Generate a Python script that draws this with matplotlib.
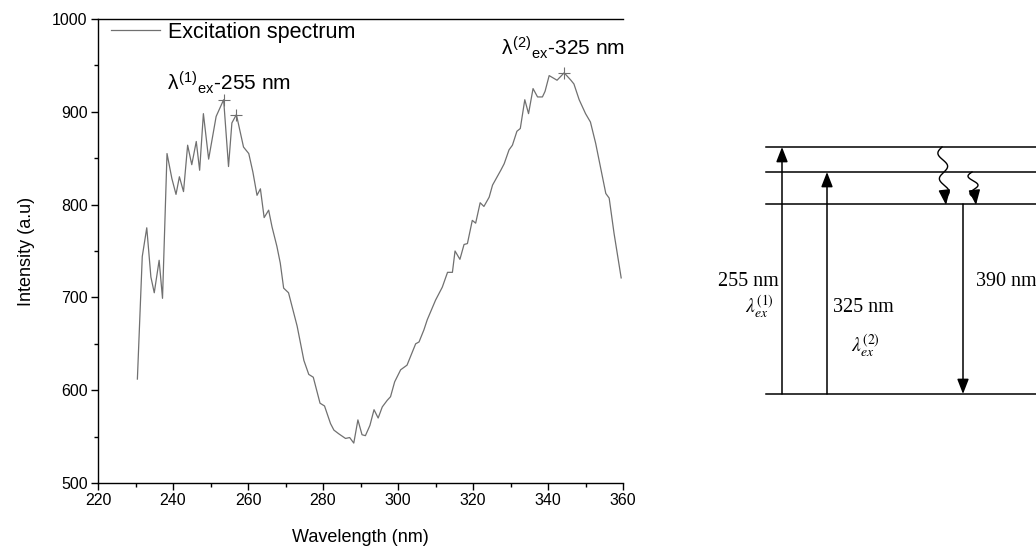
import numpy as np
import matplotlib
matplotlib.use("Agg")
import matplotlib.pyplot as plt
from matplotlib.ticker import MultipleLocator

plt.rcParams['font.family'] = ['Liberation Sans', 'DejaVu Sans']
plt.rcParams['mathtext.fontset'] = 'custom'
plt.rcParams['mathtext.rm'] = 'Liberation Sans'
plt.rcParams['mathtext.it'] = 'Liberation Sans'

# excitation spectrum
wavelength = [230.5, 231.8, 233.0, 234.1, 235.0, 236.3, 237.2, 238.4, 239.7, 240.8,
              241.7, 242.8, 243.9, 245.0, 246.2, 247.1, 248.1, 249.5, 251.5, 253.5,
              254.8, 255.7, 256.9, 258.8, 260.2, 261.3, 262.4, 263.3, 264.3, 265.5,
              266.4, 267.7, 268.6, 269.5, 270.8, 273.1, 274.9, 276.2, 277.4, 279.2,
              280.4, 282.0, 282.9, 284.2, 286.0, 287.1, 288.2, 289.3, 290.4, 291.3,
              292.5, 293.6, 294.7, 295.8, 297.1, 298.0, 299.1, 300.7, 302.4, 303.8,
              304.7, 305.6, 306.9, 307.8, 310.0, 311.8, 313.2, 314.5, 315.2, 316.5,
              317.6, 318.5, 319.8, 320.7, 321.9, 322.9, 324.3, 325.2, 327.4, 328.3,
              329.6, 330.5, 331.7, 332.6, 333.8, 334.8, 336.0, 337.2, 338.5, 339.2,
              340.3, 342.4, 344.3, 346.1, 346.9, 348.3, 350.0, 351.3, 352.7, 355.4,
              356.3, 357.6, 359.5]
intensity = [612, 744, 775, 722, 705, 740, 699, 855, 828, 811,
             830, 814, 864, 843, 868, 837, 898, 849, 895, 913,
             841, 888, 897, 862, 855, 835, 810, 817, 786, 794,
             776, 755, 737, 710, 705, 669, 632, 617, 614, 586,
             583, 564, 557, 553, 548, 549, 543, 568, 552, 551,
             562, 579, 570, 582, 589, 593, 609, 622, 627, 641,
             650, 652, 665, 676, 697, 711, 727, 727, 750, 741,
             757, 758, 783, 780, 802, 798, 808, 821, 837, 844,
             859, 864, 879, 882, 913, 898, 925, 916, 916, 922,
             939, 934, 942, 934, 930, 913, 898, 889, 866, 812,
             807, 769, 721]

peak_x = [253.5, 256.9, 344.3]
peak_y = [913, 897, 942]

# energy level scheme (figure pixel units)
levels = [147, 172, 204, 394]
level_x0 = 766
up_arrows_x = [782, 827]
up_arrows_top = [147, 172]
down_arrow_x = 963

fig = plt.figure(figsize=(10.36, 5.52), dpi=100)
ax = fig.add_axes([0.0946, 0.125, 0.5068, 0.8406])

gray = '#707070'
ax.plot(wavelength, intensity, color=gray, lw=0.9, label='Excitation spectrum')
ax.plot(peak_x, peak_y, '+', color=gray, ms=8, mew=0.8)

ax.set_xlim(220, 360)
ax.set_ylim(500, 1000)
ax.xaxis.set_major_locator(MultipleLocator(20))
ax.xaxis.set_minor_locator(MultipleLocator(10))
ax.yaxis.set_major_locator(MultipleLocator(100))
ax.yaxis.set_minor_locator(MultipleLocator(50))
ax.tick_params(which='major', direction='out', length=5, width=1, labelsize=11.5, pad=2.5)
ax.tick_params(which='minor', direction='out', length=3, width=1)
ax.spines['right'].set_visible(False)
for s in ax.spines.values():
    s.set_linewidth(1)
ax.set_xlabel('Wavelength (nm)', fontsize=13, labelpad=15)
ax.set_ylabel('Intensity (a.u)', fontsize=13, labelpad=12)

ax.legend(loc='upper left', frameon=False, fontsize=15.5, handlelength=2.3,
          handletextpad=0.35, borderaxespad=0.0, bbox_to_anchor=(0.008, 1.012))

ax.text(238.5, 923, r'$\lambda^{(1)}{}_{\mathrm{ex}}$-255 nm', fontsize=15)
ax.text(327.5, 961, r'$\lambda^{(2)}{}_{\mathrm{ex}}$-325 nm', fontsize=15)

# level diagram drawn in figure pixel coordinates
ax2 = fig.add_axes([0, 0, 1, 1])
ax2.set_xlim(0, 1036)
ax2.set_ylim(552, 0)
ax2.axis('off')

for lv in levels:
    ax2.plot([level_x0, 1036], [lv, lv], color='black', lw=1.1)

arrow_kw = dict(arrowstyle='-|>,head_length=0.9,head_width=0.35', color='black', lw=1.1,
                shrinkA=0, shrinkB=0)
for xa, yt in zip(up_arrows_x, up_arrows_top):
    ax2.annotate('', xy=(xa, yt), xytext=(xa, levels[3]), arrowprops=arrow_kw)
ax2.annotate('', xy=(down_arrow_x, levels[3]), xytext=(down_arrow_x, levels[2]),
             arrowprops=arrow_kw)

# wavy non-radiative relaxation
for x0, y0, cycles in [(942, 147, 2.0), (972, 172, 1.5)]:
    t = np.linspace(0, 1, 200)
    yy = y0 + t * (levels[2] - 6 - y0)
    xx = x0 - 4.5 * np.sin(2 * np.pi * cycles * t) + 3 * t
    ax2.plot(xx, yy, color='black', lw=1.0)
    ax2.annotate('', xy=(xx[-1] + 1, levels[2] + 1), xytext=(xx[-1], yy[-1] - 2),
                 arrowprops=arrow_kw)

serif = ['Liberation Serif', 'DejaVu Serif']
ax2.text(779, 282, '255 nm', ha='right', va='center', fontsize=14.5, family=serif)
ax2.text(833, 307, '325 nm', ha='left', va='center', fontsize=14.5, family=serif)
ax2.text(976, 282, '390 nm', ha='left', va='center', fontsize=14.5, family=serif)
ax2.text(759, 307, r'$\lambda_{ex}^{(1)}$', ha='center', va='center', fontsize=14,
         family=serif, math_fontfamily='stix')
ax2.text(865, 346, r'$\lambda_{ex}^{(2)}$', ha='center', va='center', fontsize=14,
         family=serif, math_fontfamily='stix')

fig.savefig('out.png', dpi=100)
